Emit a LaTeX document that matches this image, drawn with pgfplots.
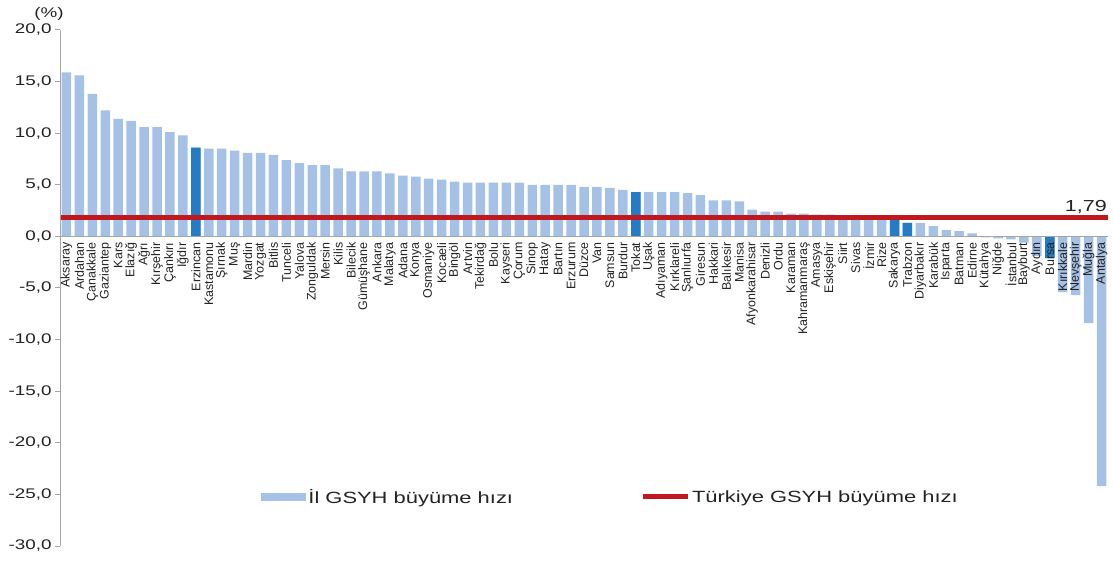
\documentclass[border=0pt]{standalone}
\usepackage{pgfplots}
\usepackage{pgfplotstable}
\pgfplotsset{compat=1.18}
\usepackage{fontspec}
\setmainfont{Liberation Sans}
\newfontfamily\widefont[FakeStretch=1.35]{Liberation Sans}
\definecolor{barlight}{RGB}{166,193,230}
\definecolor{bardark}{RGB}{38,124,196}
\definecolor{redline}{RGB}{192,24,30}
\definecolor{axgray}{RGB}{165,165,165}
\definecolor{txt}{RGB}{35,35,35}

\pgfplotstableread{
x y
1 15.9
2 15.6
3 13.8
4 12.2
5 11.4
6 11.2
7 10.6
8 10.6
9 10.1
10 9.8
11 8.6
12 8.5
13 8.5
14 8.3
15 8.1
16 8.1
17 7.9
18 7.4
19 7.1
20 6.9
21 6.9
22 6.6
23 6.3
24 6.3
25 6.3
26 6.1
27 5.9
28 5.8
29 5.6
30 5.5
31 5.3
32 5.2
33 5.2
34 5.2
35 5.2
36 5.2
37 5.0
38 5.0
39 5.0
40 5.0
41 4.8
42 4.8
43 4.7
44 4.5
45 4.3
46 4.3
47 4.3
48 4.3
49 4.2
50 4.0
51 3.5
52 3.5
53 3.4
54 2.6
55 2.4
56 2.4
57 2.2
58 2.2
59 2.1
60 2.1
61 1.9
62 1.8
63 1.8
64 1.7
65 1.6
66 1.3
67 1.3
68 1.0
69 0.6
70 0.5
71 0.3
72 -0.1
73 -0.2
74 -0.3
75 -0.6
76 -1.9
77 -2.1
78 -5.4
79 -5.7
80 -8.4
81 -24.2
}\light

\pgfplotstableread{
x y
11 8.6
45 4.3
65 1.6
66 1.3
77 -2.1
}\dark

\begin{document}
\begin{tikzpicture}
\useasboundingbox (0,0) rectangle (1113bp,564bp);
\begin{axis}[
  at={(60bp,18bp)}, anchor=south west,
  scale only axis, width=1048bp, height=516bp,
  xmin=0.5, xmax=81.5, ymin=-30, ymax=20,
  axis x line=middle, axis y line=left,
  axis on top=true,
  x axis line style={-, draw=axgray, line width=1.5bp},
  y axis line style={-, draw=axgray, line width=1bp},
  hide obscured x ticks=false, hide obscured y ticks=false,
  clip=false,
  ytick={-30,-25,...,20},
  xtick={1,...,81},
  xticklabels={Aksaray,Ardahan,Çanakkale,Gaziantep,Kars,Elazığ,Ağrı,Kırşehir,Çankırı,Iğdır,Erzincan,Kastamonu,Şırnak,Muş,Mardin,Yozgat,Bitlis,Tunceli,Yalova,Zonguldak,Mersin,Kilis,Bilecik,Gümüşhane,Ankara,Malatya,Adana,Konya,Osmaniye,Kocaeli,Bingöl,Artvin,Tekirdağ,Bolu,Kayseri,Çorum,Sinop,Hatay,Bartın,Erzurum,Düzce,Van,Samsun,Burdur,Tokat,Uşak,Adıyaman,Kırklareli,Şanlıurfa,Giresun,Hakkari,Balıkesir,Manisa,Afyonkarahisar,Denizli,Ordu,Karaman,Kahramanmaraş,Amasya,Eskişehir,Siirt,Sivas,İzmir,Rize,Sakarya,Trabzon,Diyarbakır,Karabük,Isparta,Batman,Edirne,Kütahya,Niğde,İstanbul,Bayburt,Aydın,Bursa,Kırıkkale,Nevşehir,Muğla,Antalya},
  x tick label style={rotate=90, anchor=east, font=\fontsize{12.5}{13}\selectfont, color=txt, inner sep=1bp},
  major x tick style={draw=none},
  y tick style={draw=axgray, line width=1bp},
  tick align=outside, major tick length=5bp,
  y tick label style={/pgf/number format/.cd, fixed, fixed zerofill, precision=1, use comma, assume math mode=true, /tikz/.cd, font=\widefont\fontsize{14}{16}\selectfont, color=txt},
  legend style={at={(0.192,0.095)}, anchor=west, draw=none, fill=none, inner sep=0pt,
     legend columns=2, font=\widefont\fontsize{16.3}{18}\selectfont, text=txt,
     /tikz/every even column/.append style={column sep=125bp}},
  legend cell align=left,
]
\addplot[ybar, bar width=9.5bp, bar shift=0pt, fill=barlight, draw=none,
  legend image code/.code={\fill[barlight] (0bp,-4bp) rectangle (45bp,4bp);}] table[x=x,y=y] {\light};
\addlegendentry{İl GSYH büyüme hızı}
\addplot[ybar, bar width=9.5bp, bar shift=0pt, fill=bardark, draw=none, forget plot] table[x=x,y=y] {\dark};
\addplot[redline, line width=5bp,
  legend image code/.code={\draw[redline, line width=5bp] (0bp,0bp) -- (45bp,0bp);}] coordinates {(0.5,1.79) (81.5,1.79)};
\addlegendentry{Türkiye GSYH büyüme hızı}
\node[anchor=south east, inner sep=1bp, yshift=3bp, font=\widefont\fontsize{16}{18}\selectfont, text=txt] at (axis cs:81.5,1.79) {1,79};
\end{axis}
\node[font=\widefont\fontsize{14}{16}\selectfont, text=txt] at (49bp,550bp) {(\%)};
\end{tikzpicture}
\end{document}
